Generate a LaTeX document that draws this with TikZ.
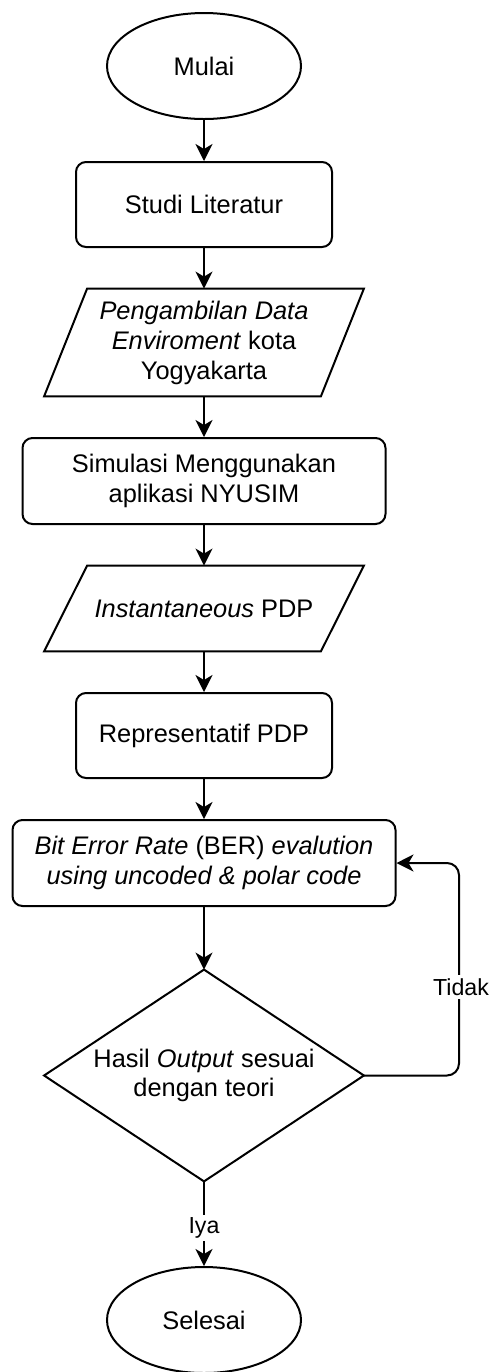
\documentclass[tikz,border=0pt]{standalone}
\usepackage{fontspec}
\setmainfont{Liberation Sans}
\usetikzlibrary{shapes.geometric,arrows.meta}

\tikzset{
  terminal/.style={draw, ellipse, line width=1pt, minimum width=97pt, minimum height=53pt, inner sep=0pt},
  process/.style={draw, rounded corners=5pt, line width=1pt, align=center, inner sep=0pt},
  textonly/.style={align=center, inner sep=0pt},
  flow/.style={line width=1pt, -{Stealth[length=8.5pt,width=8.5pt,inset=2.5pt]}},
  edgelabel/.style={fill=white, inner sep=1.5pt, font=\fontsize{11.6}{13}\selectfont},
}

\begin{document}
\begin{tikzpicture}[x=0.5pt, y=-0.5pt, font=\fontsize{12.7}{14.7}\selectfont]
            \useasboundingbox (0,0) rectangle (491,1372);
            % Start
            \node[terminal] (mulai) at (204,66) {Mulai};
            % Steps
            \node[process, minimum width=128pt, minimum height=42.5pt] (studi) at (204,204.5) {Studi Literatur};
            \node[textonly, minimum width=159.5pt, minimum height=53.5pt] (data) at (204,342.5)
                {\textit{Pengambilan Data}\\[0.3pt]\textit{Enviroment} kota\\[0.3pt]Yogyakarta};
            \node[process, minimum width=181.5pt, minimum height=43pt] (simulasi) at (204,481)
                {Simulasi Menggunakan\\aplikasi NYUSIM};
            \node[textonly, minimum width=159.5pt, minimum height=42.5pt] (pdp) at (204,608.5)
                {\textit{Instantaneous} PDP};
            \node[process, minimum width=128pt, minimum height=42.5pt] (repr) at (204,735.5) {Representatif PDP};
            \node[process, minimum width=191.5pt, minimum height=43pt] (ber) at (204,863)
                {\textit{Bit Error Rate} (BER) \textit{evalution}\\\textit{using uncoded \& polar code}};
            % Decision
            \node[textonly, minimum width=159.5pt, minimum height=105.5pt] (cek) at (204,1075.5)
                {Hasil \textit{Output} sesuai\\dengan teori};
            % End
            \node[terminal] (selesai) at (204,1320) {Selesai};
            % Input/output shapes: slanted sides
            \draw[line width=1pt] ([xshift=21.5pt]data.north west) -- (data.north east)
                -- ([xshift=-21.5pt]data.south east) -- (data.south west) -- cycle;
            \draw[line width=1pt] ([xshift=21.5pt]pdp.north west) -- (pdp.north east)
                -- ([xshift=-21.5pt]pdp.south east) -- (pdp.south west) -- cycle;
            % Decision shape
            \draw[line width=1pt] (cek.north) -- (cek.east) -- (cek.south) -- (cek.west) -- cycle;
            % Main flow
            \draw[flow] (mulai) -- (studi);
            \draw[flow] (studi) -- (data.north);
            \draw[flow] (data.south) -- (simulasi);
            \draw[flow] (simulasi) -- (pdp.north);
            \draw[flow] (pdp.south) -- (repr);
            \draw[flow] (repr) -- (ber);
            \draw[flow] (ber) -- (cek.north);
            \draw[flow] (cek.south) -- node[edgelabel, pos=0.55] {Iya} (selesai);
            % Loop back when result does not match
            \draw[flow, rounded corners=6pt] (cek.east) -- (459,1075.5) -- (459,863) -- (ber.east);
            \node[edgelabel] (tidak) at (461,987) {Tidak};
        \end{tikzpicture}
\end{document}
